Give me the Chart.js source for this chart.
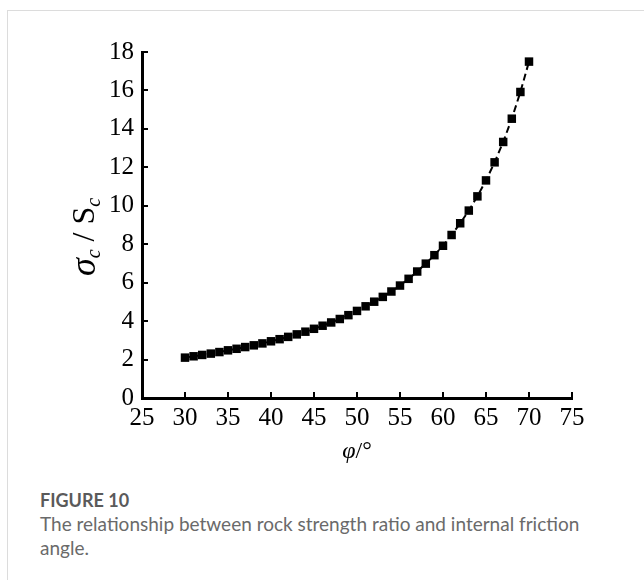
<!DOCTYPE html>
<html>
<head>
<meta charset="utf-8">
<script src="https://cdn.jsdelivr.net/npm/chart.js@4.4.1/dist/chart.umd.min.js"></script>
<style>
  html, body { margin: 0; padding: 0; background: #fff; }
  body { width: 644px; height: 580px; position: relative; overflow: hidden; }
  .frame { position: absolute; left: 7px; top: 10px; right: -2px; bottom: -2px; border-top: 1px solid #dcdcdc; border-left: 1px solid #dcdcdc; }
  #wrap { position: absolute; left: 0; top: 0; width: 644px; height: 480px; }
  .cap { position: absolute; left: 40px; top: 488px; width: 560px; font-family: Lato, "Open Sans", sans-serif; }
  .cap .fig { font-weight: 700; font-size: 18px; color: #5a5a5a; line-height: 24px; }
  .cap .txt { font-size: 19px; line-height: 24px; color: #6a6a6a; }
</style>
</head>
<body>
<div class="frame"></div>
<div id="wrap"><canvas id="c" width="644" height="480"></canvas></div>
<div class="cap">
  <div class="fig">FIGURE 10</div>
  <div class="txt">The relationship between rock strength ratio and internal friction angle.</div>
</div>
<script>
// Internal friction angle (degrees) and the rock strength ratio σc/Sc
const frictionAngle = [30, 31, 32, 33, 34, 35, 36, 37, 38, 39, 40, 41, 42, 43, 44, 45, 46, 47, 48, 49, 50,
                       51, 52, 53, 54, 55, 56, 57, 58, 59, 60, 61, 62, 63, 64, 65, 66, 67, 68, 69, 70];
const strengthRatio = [2.10, 2.17, 2.24, 2.31, 2.39, 2.48, 2.56, 2.65, 2.74, 2.84, 2.95, 3.06, 3.18, 3.31, 3.45, 3.60,
                       3.76, 3.93, 4.11, 4.31, 4.53, 4.77, 5.01, 5.26, 5.54, 5.85, 6.20, 6.58, 6.99, 7.43, 7.92,
                       8.48, 9.09, 9.75, 10.49, 11.32, 12.26, 13.32, 14.53, 15.92, 17.50];
const xTicks = [25, 30, 35, 40, 45, 50, 55, 60, 65, 70, 75];
const yTicks = [0, 2, 4, 6, 8, 10, 12, 14, 16, 18];

const points = frictionAngle.map((a, i) => ({ x: a, y: strengthRatio[i] }));
const serif = '"Liberation Serif", "Times New Roman", serif';

// Inward tick marks and the two axis titles
const axisDecor = {
  id: 'axisDecor',
  afterDraw(chart) {
    const ctx = chart.ctx;
    const xs = chart.scales.x, ys = chart.scales.y;
    const area = chart.chartArea;
    ctx.save();
    ctx.strokeStyle = '#000';
    ctx.lineWidth = 2;
    ctx.beginPath();
    xTicks.forEach(v => {
      const px = Math.round(xs.getPixelForValue(v));
      ctx.moveTo(px, area.bottom);
      ctx.lineTo(px, area.bottom - 6);
    });
    yTicks.forEach(v => {
      const py = Math.round(ys.getPixelForValue(v));
      ctx.moveTo(area.left, py);
      ctx.lineTo(area.left + 6, py);
    });
    ctx.stroke();

    // x title: φ/°
    ctx.fillStyle = '#000';
    ctx.textBaseline = 'middle';
    ctx.textAlign = 'left';
    const xt = (area.left + area.right) / 2;
    const yt = area.bottom + 54;
    ctx.font = 'italic 24px ' + serif;
    const wPhi = ctx.measureText('φ').width;
    ctx.font = '24px ' + serif;
    const wRest = ctx.measureText('/°').width;
    let x0 = xt - (wPhi + wRest) / 2;
    ctx.font = 'italic 24px ' + serif;
    ctx.fillText('φ', x0, yt);
    ctx.font = '24px ' + serif;
    ctx.fillText('/°', x0 + wPhi, yt);

    // y title: σc / Sc, rotated
    ctx.translate(area.left - 56, 237);
    ctx.rotate(-Math.PI / 2);
    const parts = [
      { t: 'σ', f: 'italic 36px ' + serif, dy: 0 },
      { t: 'c', f: 'italic 20px ' + serif, dy: 9 },
      { t: ' / ', f: '32px ' + serif, dy: 0 },
      { t: 'S', f: '32px ' + serif, dy: 0 },
      { t: 'c', f: 'italic 20px ' + serif, dy: 9 }
    ];
    let total = 0;
    parts.forEach(p => { ctx.font = p.f; p.w = ctx.measureText(p.t).width; total += p.w; });
    let cx = -total / 2;
    parts.forEach(p => {
      ctx.font = p.f;
      ctx.fillText(p.t, cx, p.dy);
      cx += p.w;
    });
    ctx.restore();
  }
};

new Chart(document.getElementById('c'), {
  type: 'line',
  data: {
    datasets: [{
      data: points,
      borderColor: '#000',
      backgroundColor: '#000',
      borderWidth: 2,
      borderDash: [7, 4],
      tension: 0,
      pointStyle: 'rect',
      pointRadius: 6,
      pointBorderWidth: 0,
      pointBackgroundColor: '#000'
    }]
  },
  options: {
    responsive: false,
    animation: false,
    layout: { padding: { left: 0, top: 52, right: 72, bottom: 0 } },
    plugins: { legend: { display: false }, tooltip: { enabled: false } },
    scales: {
      x: {
        type: 'linear',
        min: 25, max: 75,
        afterFit(s) { s.height = 82; },
        afterBuildTicks(s) { s.ticks = xTicks.map(v => ({ value: v })); },
        grid: { display: false, drawTicks: false },
        border: { display: true, color: '#000', width: 3 },
        ticks: { color: '#000', padding: 5, maxRotation: 0, font: { family: serif, size: 25 } }
      },
      y: {
        type: 'linear',
        min: 0, max: 18,
        afterFit(s) { s.width = 142; },
        afterBuildTicks(s) { s.ticks = yTicks.map(v => ({ value: v })); },
        grid: { display: false, drawTicks: false },
        border: { display: true, color: '#000', width: 3 },
        ticks: { color: '#000', padding: 8, font: { family: serif, size: 25 } }
      }
    }
  },
  plugins: [axisDecor]
});
</script>
</body>
</html>
